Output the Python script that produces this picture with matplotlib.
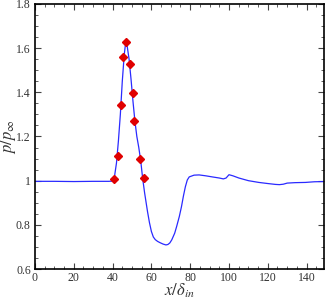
import matplotlib
matplotlib.use("Agg")
import matplotlib.pyplot as plt
from matplotlib.ticker import MultipleLocator

plt.rcParams['mathtext.fontset'] = 'stix'
plt.rcParams['font.family'] = ['Liberation Serif', 'DejaVu Serif']

# Simulation curve
line_x = [0, 10, 20, 30, 38, 40, 41, 42, 43, 44, 45, 46, 46.8, 47.5, 48.5, 49.5, 50.5, 51.5,
          52.5, 53.5, 54.5, 55.5, 56.5, 58, 59, 60, 61, 62, 63.2, 64.5, 66, 67.5, 68.5, 69.5,
          70.5, 72, 73, 74.4, 75.5, 76.5, 77.5, 78.5, 79.5, 82, 84.6, 88, 91.4, 95, 97.1,
          98.5, 100, 102, 105.1, 110, 115.4, 120, 124, 126, 128, 130, 134, 139.3, 144, 149]
line_y = [0.997, 0.997, 0.996, 0.997, 0.997, 0.998, 1.02, 1.08, 1.18, 1.30, 1.45, 1.57, 1.63,
          1.61, 1.55, 1.46, 1.36, 1.27, 1.20, 1.15, 1.09, 1.01, 0.945, 0.86, 0.81, 0.77,
          0.745, 0.733, 0.725, 0.719, 0.713, 0.709, 0.711, 0.718, 0.732, 0.762, 0.792, 0.838,
          0.882, 0.93, 0.972, 1.003, 1.017, 1.025, 1.026, 1.022, 1.017, 1.012, 1.008, 1.012,
          1.027, 1.022, 1.012, 1.0, 0.992, 0.987, 0.983, 0.982, 0.984, 0.989, 0.991, 0.992,
          0.995, 0.996]

# Experimental points
exp_x = [40.7, 42.8, 44.5, 45.5, 46.9, 49.1, 50.4, 51.2, 54.3, 56.0]
exp_y = [1.008, 1.11, 1.341, 1.562, 1.63, 1.527, 1.395, 1.271, 1.10, 1.012]

fig = plt.figure(figsize=(3.27, 2.98), dpi=100)
ax = fig.add_axes([0.107, 0.0973, 0.884, 0.8893])

ax.plot(line_x, line_y, color='#2a2aff', lw=0.9)
ax.plot(exp_x, exp_y, linestyle='none', marker='D', ms=4.4, color='#e00000', mec='#e00000')

ax.set_xlim(0, 149)
ax.set_ylim(0.6, 1.8)
ax.xaxis.set_major_locator(MultipleLocator(20))
ax.xaxis.set_minor_locator(MultipleLocator(5))
ax.yaxis.set_minor_locator(MultipleLocator(0.05))
ax.set_yticks([0.6, 0.8, 1.0, 1.2, 1.4, 1.6, 1.8])
ax.set_yticklabels(['0.6', '0.8', '1', '1.2', '1.4', '1.6', '1.8'])
ax.tick_params(which='both', direction='in', top=True, right=True, labelsize=8.5,
               colors='#444444', labelcolor='#333333')
ax.tick_params(axis='x', pad=2)
ax.tick_params(axis='y', pad=3)
ax.tick_params(which='major', length=4, width=0.8)
ax.tick_params(which='minor', length=2, width=0.6)
for s in ax.spines.values():
    s.set_linewidth(1.2)

ax.set_xlabel(r'$x/\delta_{in}$', fontsize=12, color='#333333')
ax.xaxis.set_label_coords(0.5, -0.047)
ax.set_ylabel(r'$p/p_{\infty}$', fontsize=12, color='#333333')
ax.yaxis.set_label_coords(-0.058, 0.5)

fig.savefig('out.png', dpi=100)
